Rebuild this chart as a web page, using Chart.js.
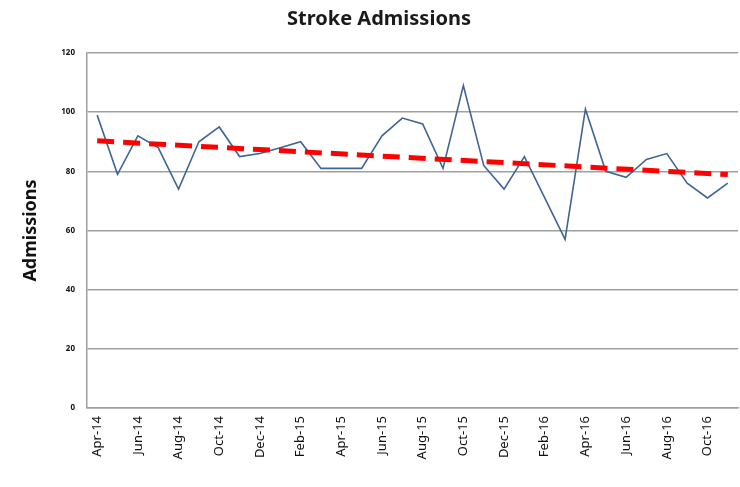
<!DOCTYPE html>
<html>
<head>
<meta charset="utf-8">
<script src="https://cdn.jsdelivr.net/npm/chart.js@4/dist/chart.umd.min.js"></script>
<style>
  html, body { margin: 0; padding: 0; background: #fff; }
  #wrap { width: 740px; height: 487px; }
</style>
</head>
<body>
<div id="wrap"><canvas id="chart" width="740" height="487"></canvas></div>
<script>
  // monthly stroke admissions, Apr-14 .. Nov-16
  const months = [
    "Apr-14","May-14","Jun-14","Jul-14","Aug-14","Sep-14","Oct-14","Nov-14","Dec-14",
    "Jan-15","Feb-15","Mar-15","Apr-15","May-15","Jun-15","Jul-15","Aug-15","Sep-15","Oct-15","Nov-15","Dec-15",
    "Jan-16","Feb-16","Mar-16","Apr-16","May-16","Jun-16","Jul-16","Aug-16","Sep-16","Oct-16","Nov-16"
  ];
  const admissions = [
    99, 79, 92, 88, 74, 90, 95, 85, 86,
    88, 90, 81, 81, 81, 92, 98, 96, 81, 109, 82, 74,
    85, 71, 57, 101, 80, 78, 84, 86, 76, 71, 76
  ];
  // trend line end points
  const trendStart = 90.3;
  const trendEnd = 78.9;
  const yTicks = [0, 20, 40, 60, 80, 100, 120];

  const trend = months.map((m, i) => i === 0 ? trendStart : (i === months.length - 1 ? trendEnd : null));

  const grid = "#a0a0a0";
  const tickFont = { family: "'Noto Sans', sans-serif", size: 8, weight: "bold" };

  new Chart(document.getElementById("chart"), {
    type: "line",
    data: {
      labels: months,
      datasets: [
        {
          label: "Trend",
          data: trend,
          spanGaps: true,
          borderColor: "#ff0000",
          borderWidth: 5,
          borderDash: [17, 9],
          pointRadius: 0,
          fill: false,
          order: 0
        },
        {
          label: "Admissions",
          data: admissions,
          borderColor: "#3f6593",
          borderWidth: 1.6,
          pointRadius: 0,
          tension: 0,
          fill: false,
          order: 1
        }
      ]
    },
    options: {
      responsive: false,
      animation: false,
      layout: { padding: { left: 20, right: 2, top: 7, bottom: 0 } },
      plugins: {
        legend: { display: false },
        tooltip: { enabled: false },
        title: {
          display: true,
          text: "Stroke Admissions",
          color: "#1a1a1a",
          font: { family: "'Noto Sans', sans-serif", size: 20, weight: "bold" },
          padding: { top: 0, bottom: 22 }
        }
      },
      scales: {
        x: {
          offset: true,
          grid: { display: false, drawTicks: false },
          border: { color: grid, width: 1.5 },
          ticks: {
            autoSkip: false,
            maxRotation: 90,
            minRotation: 90,
            color: "#111",
            font: { family: "'Noto Sans', sans-serif", size: 13 },
            padding: 8,
            callback: (v, i) => (i % 2 === 0 ? months[i] : "")
          },
          afterFit: s => { s.height = 79; s.paddingLeft = 0; s.paddingRight = 0; }
        },
        y: {
          min: 0,
          max: 120,
          afterBuildTicks: s => { s.ticks = yTicks.map(v => ({ value: v })); },
          grid: { color: grid, lineWidth: 1.5, drawTicks: false },
          border: { color: grid, width: 1.5 },
          ticks: { color: "#111", font: tickFont, padding: 12 },
          title: {
            display: true,
            text: "Admissions",
            color: "#111",
            font: { family: "'Noto Sans', sans-serif", size: 18, weight: "bold" },
            padding: { top: 0, bottom: 14 }
          },
          afterFit: s => { s.width = 67; s.paddingTop = 0; s.paddingBottom = 0; }
        }
      }
    }
  });
</script>
</body>
</html>
